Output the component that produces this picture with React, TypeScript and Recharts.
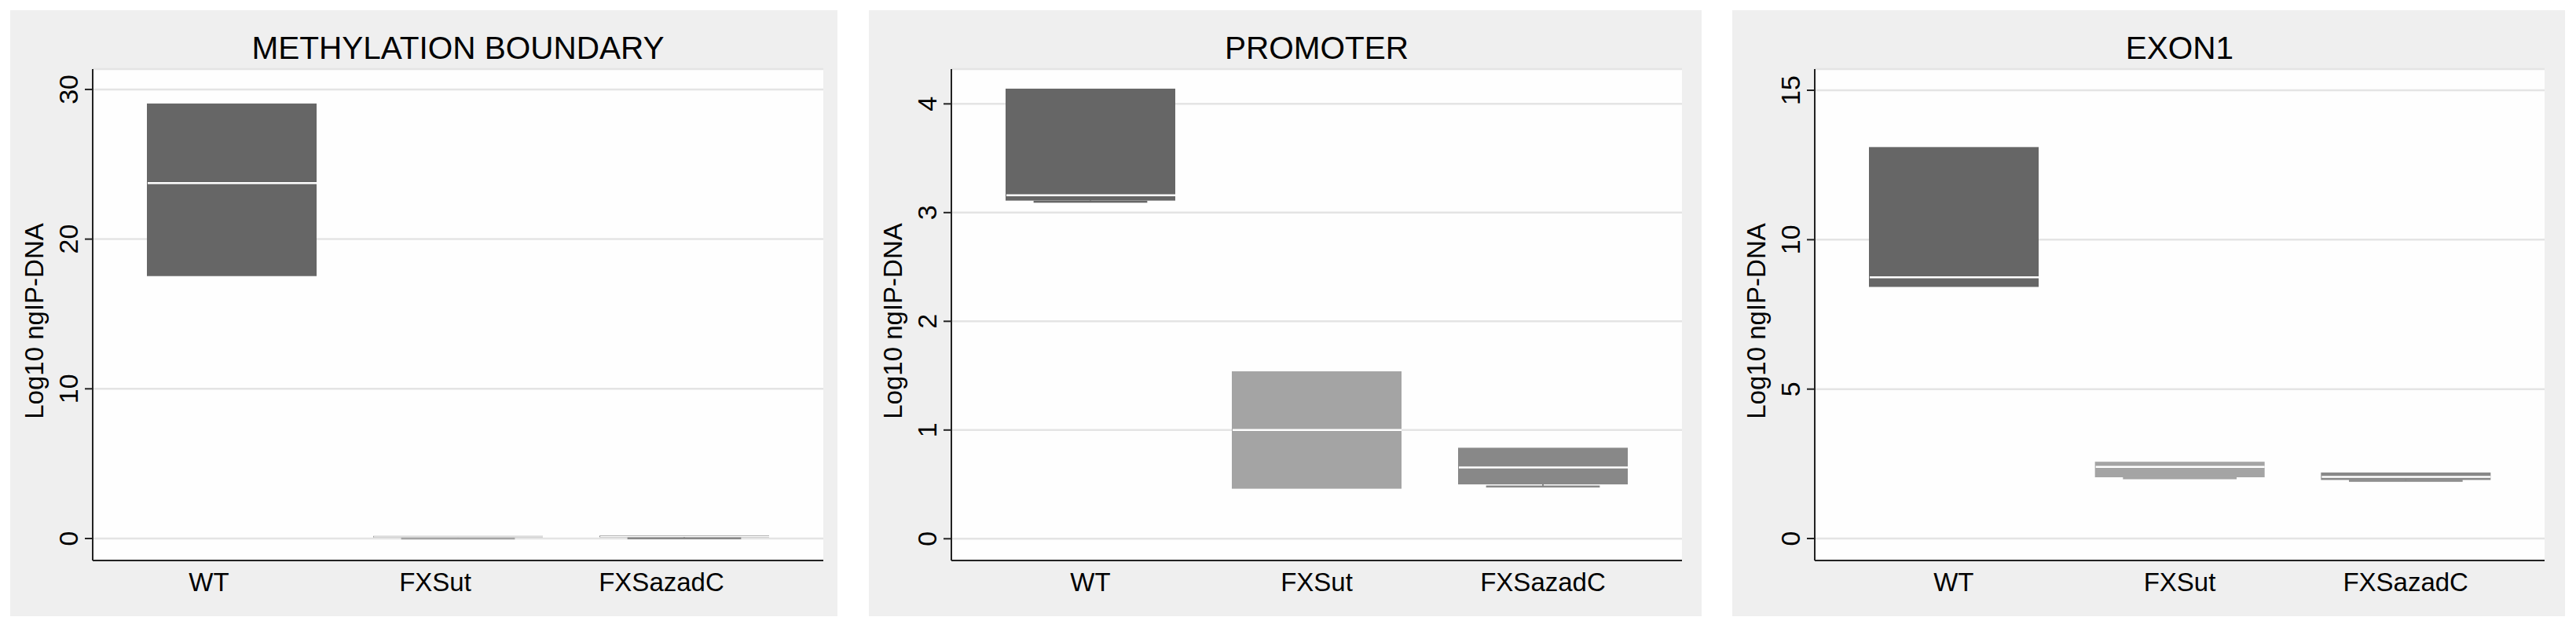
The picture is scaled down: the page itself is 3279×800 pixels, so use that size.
import React from "react";
import { ComposedChart, Bar, Cell, XAxis, YAxis, CartesianGrid } from "recharts";

const groups = ["WT", "FXSut", "FXSazadC"];

// box plot statistics: lower adjacent, 25th pct, median, 75th pct
const boundaryLow = [17.53, 0.0, 0.01];
const boundaryQ1 = [17.53, 0.07, 0.09];
const boundaryMedian = [23.74, 0.11, 0.13];
const boundaryQ3 = [29.06, 0.17, 0.19];

const promoterLow = [3.1, 0.46, 0.48];
const promoterQ1 = [3.11, 0.46, 0.5];
const promoterMedian = [3.16, 1.0, 0.655];
const promoterQ3 = [4.14, 1.54, 0.837];

const exonLow = [8.42, 2.02, 1.93];
const exonQ1 = [8.42, 2.05, 1.96];
const exonMedian = [8.74, 2.4, 2.065];
const exonQ3 = [13.1, 2.57, 2.21];

const boundaryTicks = [0, 10, 20, 30];
const promoterTicks = [0, 1, 2, 3, 4];
const exonTicks = [0, 5, 10, 15];

const boxColors = ["#666666", "#a4a4a4", "#888888"];
const FONT = "'Liberation Sans', Arial, Helvetica, sans-serif";

const makeRows = (low, q1, median, q3) =>
  groups.map((group, i) => ({
    group,
    low: low[i],
    q1: q1[i],
    median: median[i],
    q3: q3[i],
  }));

const panels = [
  {
    title: "METHYLATION BOUNDARY",
    rows: makeRows(boundaryLow, boundaryQ1, boundaryMedian, boundaryQ3),
    ticks: boundaryTicks,
    domain: [-1.47, 31.36],
    left: 13,
    width: 1053,
    right: 18,
    labelShift: -29,
  },
  {
    title: "PROMOTER",
    rows: makeRows(promoterLow, promoterQ1, promoterMedian, promoterQ3),
    ticks: promoterTicks,
    domain: [-0.2, 4.32],
    left: 1106,
    width: 1060,
    right: 25,
    labelShift: 0,
  },
  {
    title: "EXON1",
    rows: makeRows(exonLow, exonQ1, exonMedian, exonQ3),
    ticks: exonTicks,
    domain: [-0.735, 15.71],
    left: 2205,
    width: 1060,
    right: 26,
    labelShift: 0,
  },
];

const PANEL_TOP = 13;
const PANEL_H = 772;
const AXIS_W = 105;

const BoxShape = (props) => {
  const { x, y, width, height, payload, fill } = props;
  if (!payload) return null;
  const span = payload.q3 - payload.low;
  const k = span > 0 ? height / span : 0;
  const yOf = (v) => y + (payload.q3 - v) * k;
  const cx = x + width / 2;
  const adjHalf = width * 0.335;
  const top = yOf(payload.q3);
  const bottom = yOf(payload.q1);
  const boxH = Math.max(bottom - top, 2);
  const hasWhisker = payload.low < payload.q1;
  // thin boxes keep some of their colour around the median line
  const medianW = Math.min(2.5, boxH / 2);
  return (
    <g>
      {hasWhisker && (
        <line x1={cx} x2={cx} y1={bottom} y2={yOf(payload.low)} stroke={fill} strokeWidth={2} />
      )}
      {hasWhisker && (
        <line
          x1={cx - adjHalf}
          x2={cx + adjHalf}
          y1={yOf(payload.low)}
          y2={yOf(payload.low)}
          stroke={fill}
          strokeWidth={2.5}
        />
      )}
      <rect x={x} y={top} width={width} height={boxH} fill={fill} />
      <line
        x1={x + 1}
        x2={x + width}
        y1={yOf(payload.median)}
        y2={yOf(payload.median)}
        stroke="#ffffff"
        strokeWidth={medianW}
      />
    </g>
  );
};

const YTick = ({ x, y, payload }) => (
  <text
    x={x}
    y={y}
    transform={`rotate(-90, ${x}, ${y})`}
    textAnchor="middle"
    fontSize={34}
    fontFamily={FONT}
    fill="#000"
  >
    {payload.value}
  </text>
);

const XTick = ({ x, y, payload, shift }) => (
  <text x={x + shift} y={y + 39} textAnchor="middle" fontSize={33} fontFamily={FONT} fill="#000">
    {payload.value}
  </text>
);

const YTitle = ({ viewBox }) => {
  const tx = viewBox.x + 41.5;
  const ty = viewBox.y + viewBox.height / 2 + 8;
  return (
    <text
      x={tx}
      y={ty}
      transform={`rotate(-90, ${tx}, ${ty})`}
      textAnchor="middle"
      fontSize={33}
      fontFamily={FONT}
      fill="#000"
    >
      Log10 ngIP-DNA
    </text>
  );
};

const Panel = ({ panel }) => (
  <div
    style={{
      position: "absolute",
      left: panel.left,
      top: PANEL_TOP,
      width: panel.width,
      height: PANEL_H,
      background: "#efefef",
    }}
  >
    <div
      style={{
        position: "absolute",
        left: AXIS_W,
        top: 28,
        width: panel.width - AXIS_W - panel.right,
        textAlign: "center",
        fontFamily: FONT,
        fontSize: 40.5,
        lineHeight: "40px",
        color: "#000",
        whiteSpace: "nowrap",
      }}
    >
      {panel.title}
    </div>
    <ComposedChart
      width={panel.width}
      height={PANEL_H}
      data={panel.rows}
      margin={{ top: 75, right: panel.right, bottom: 0, left: 0 }}
    >
      <CartesianGrid
        vertical={false}
        stroke="#e4e4e4"
        strokeWidth={2.5}
        fill="#fefefe"
        fillOpacity={1}
      />
      <XAxis
        dataKey="group"
        height={71}
        padding={{ left: 33, right: 33 }}
        tickLine={false}
        tickSize={0}
        tickMargin={0}
        axisLine={{ stroke: "#222", strokeWidth: 2 }}
        tick={<XTick shift={panel.labelShift} />}
        interval={0}
      />
      <YAxis
        width={AXIS_W}
        domain={panel.domain}
        ticks={panel.ticks}
        allowDataOverflow
        tickSize={10}
        tickMargin={9}
        axisLine={{ stroke: "#222", strokeWidth: 2 }}
        tickLine={{ stroke: "#222", strokeWidth: 2 }}
        tick={<YTick />}
        label={{ content: (props) => <YTitle viewBox={props.viewBox} /> }}
      />
      <Bar
        dataKey={(d) => [d.low, d.q3]}
        barSize={216}
        shape={<BoxShape />}
        isAnimationActive={false}
      >
        {panel.rows.map((row, i) => (
          <Cell key={row.group} fill={boxColors[i]} />
        ))}
      </Bar>
    </ComposedChart>
  </div>
);

export default function App() {
  return (
    <div
      style={{
        position: "absolute",
        left: 0,
        top: 0,
        width: 3279,
        height: 800,
        background: "#ffffff",
      }}
    >
      {panels.map((p) => (
        <Panel key={p.title} panel={p} />
      ))}
    </div>
  );
}
